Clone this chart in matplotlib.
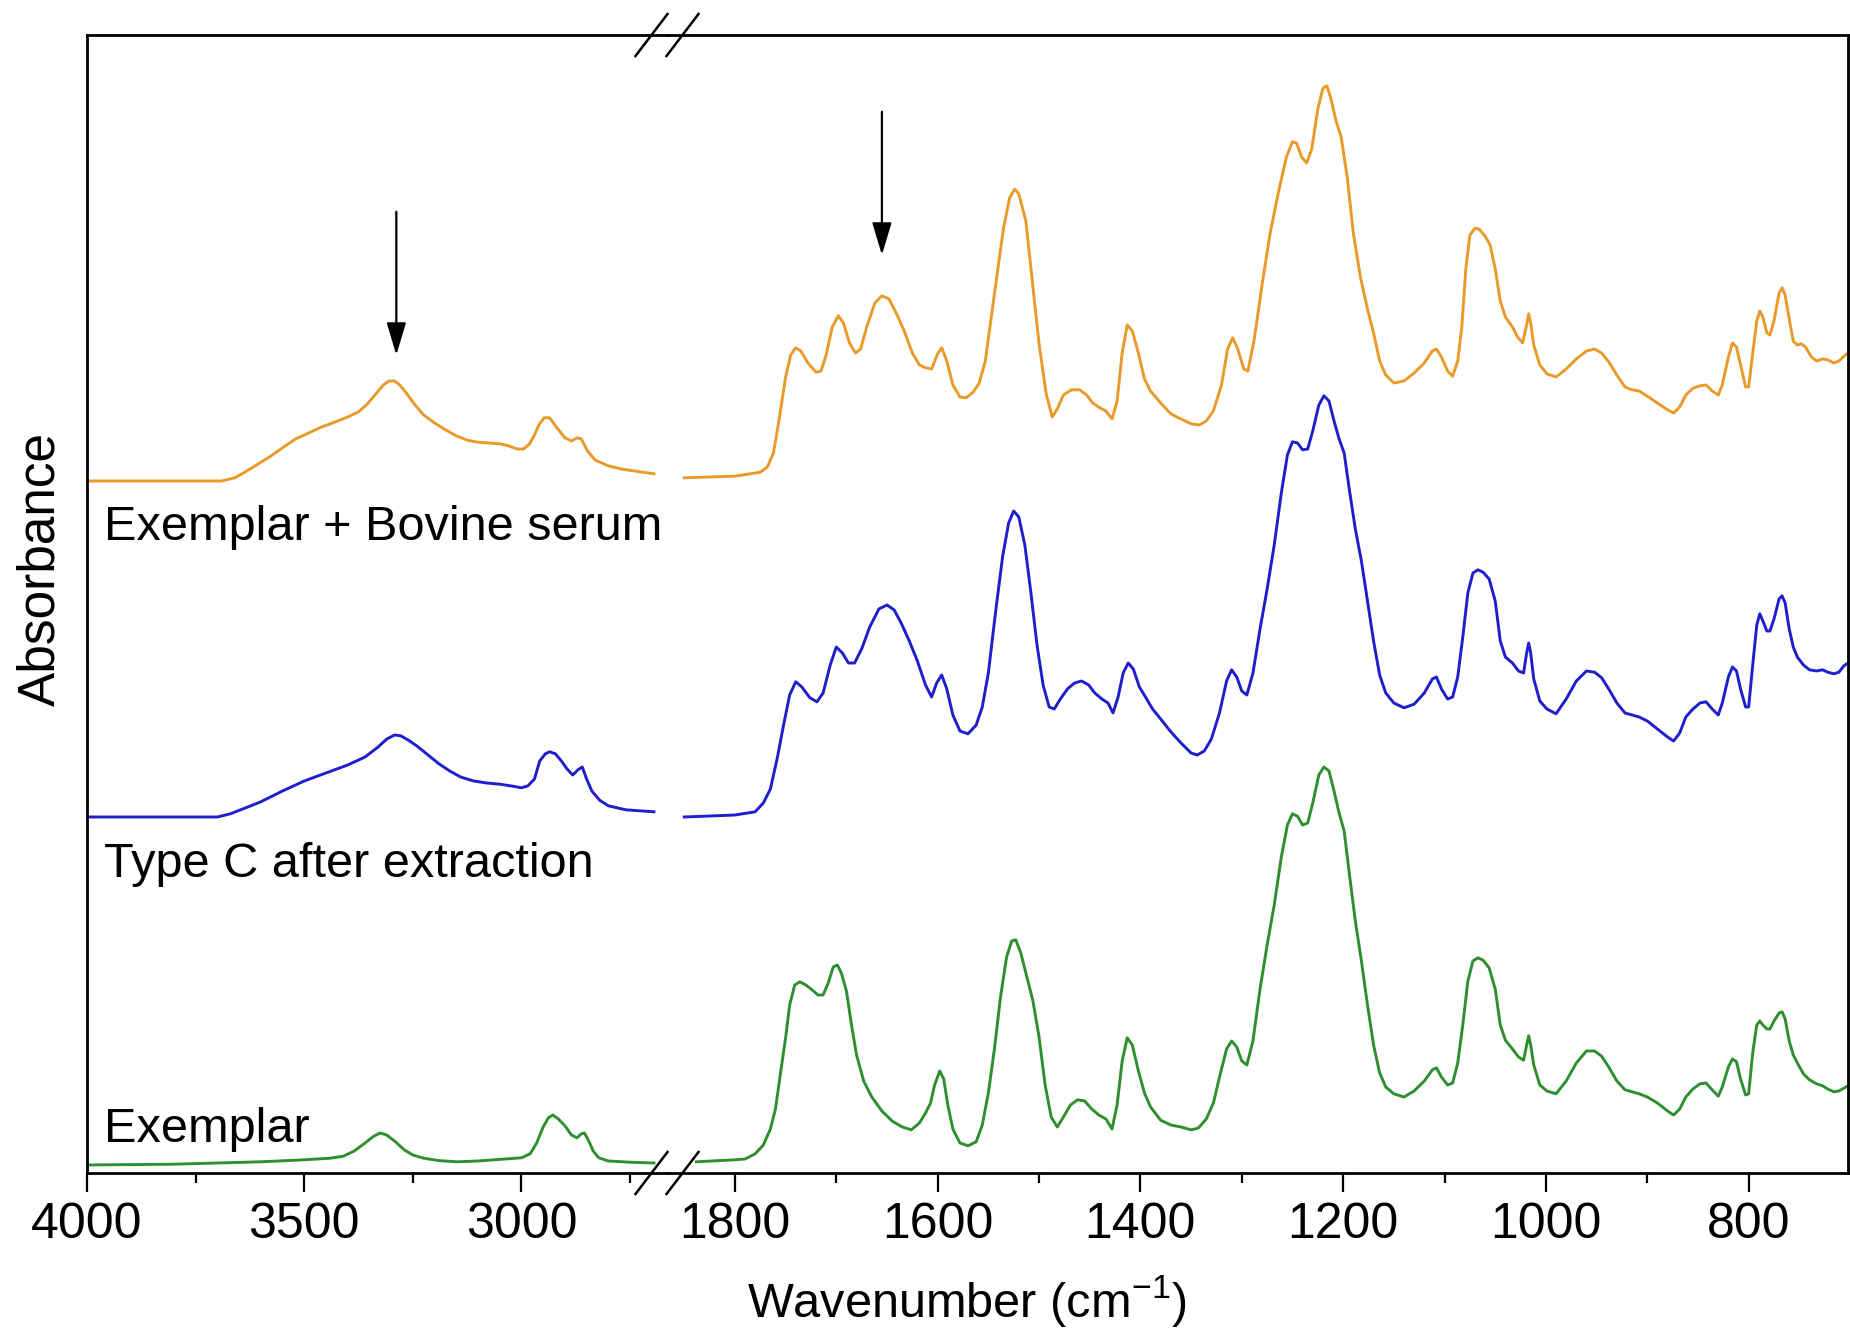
import matplotlib
matplotlib.use('Agg')

import matplotlib.pyplot as plt
from matplotlib.lines import Line2D
from matplotlib.ticker import MultipleLocator

plt.rcParams['font.family'] = ['Liberation Sans', 'DejaVu Sans']
plt.rcParams['mathtext.fontset'] = 'custom'
plt.rcParams['mathtext.rm'] = 'Liberation Sans'

# --- spectra (absorbance, arbitrary units, own baseline = 0)
# high wavenumber part (4000 - 2700 cm-1)
serum_wn_hi = [4000, 3690, 3660, 3640, 3610, 3580, 3550, 3520, 3490, 3460, 3430,
               3400, 3375, 3355, 3335, 3318, 3305, 3292, 3280, 3265, 3245, 3225,
               3200, 3175, 3150, 3125, 3100, 3075, 3050, 3030, 3010, 2995, 2982,
               2970, 2960, 2948, 2935, 2920, 2900, 2885, 2872, 2862, 2848, 2830,
               2800, 2770, 2740, 2695]
serum_abs_hi = [0.000, 0.000, 0.008, 0.020, 0.040, 0.060, 0.083, 0.105, 0.120,
                0.135, 0.147, 0.160, 0.173, 0.192, 0.218, 0.240, 0.250, 0.250,
                0.240, 0.220, 0.190, 0.165, 0.145, 0.128, 0.113, 0.102, 0.097,
                0.095, 0.093, 0.088, 0.080, 0.080, 0.092, 0.115, 0.140, 0.158,
                0.158, 0.135, 0.108, 0.100, 0.108, 0.105, 0.075, 0.052, 0.038,
                0.030, 0.025, 0.018]

typec_wn_hi = [4000, 3700, 3670, 3630, 3600, 3550, 3500, 3450, 3400, 3360, 3330,
               3310, 3292, 3278, 3260, 3240, 3215, 3190, 3165, 3140, 3110, 3080,
               3050, 3020, 3000, 2985, 2970, 2958, 2945, 2935, 2922, 2908, 2895,
               2882, 2870, 2860, 2850, 2838, 2820, 2800, 2760, 2695]
typec_abs_hi = [0.000, 0.000, 0.008, 0.025, 0.038, 0.065, 0.090, 0.110, 0.130,
                0.150, 0.175, 0.195, 0.205, 0.203, 0.192, 0.177, 0.155, 0.133,
                0.115, 0.100, 0.090, 0.085, 0.082, 0.077, 0.073, 0.078, 0.095,
                0.140, 0.158, 0.163, 0.158, 0.140, 0.120, 0.105, 0.118, 0.125,
                0.095, 0.065, 0.042, 0.028, 0.018, 0.013]

exem_wn_hi = [4000, 3800, 3700, 3600, 3500, 3440, 3410, 3385, 3360, 3340, 3325,
              3310, 3290, 3270, 3250, 3225, 3190, 3150, 3100, 3050, 3000, 2980,
              2965, 2950, 2938, 2928, 2915, 2900, 2885, 2872, 2862, 2855, 2845,
              2835, 2822, 2800, 2750, 2695]
exem_abs_hi = [0.000, 0.002, 0.005, 0.008, 0.013, 0.017, 0.022, 0.035, 0.055,
               0.072, 0.080, 0.075, 0.058, 0.038, 0.025, 0.017, 0.011, 0.008,
               0.010, 0.014, 0.018, 0.028, 0.055, 0.095, 0.118, 0.125, 0.115,
               0.098, 0.075, 0.068, 0.078, 0.080, 0.060, 0.035, 0.018, 0.010,
               0.007, 0.005]

# fingerprint part (1850 - 700 cm-1)
serum_wn_lo = [1850, 1800, 1775, 1768, 1762, 1756, 1750, 1745, 1740, 1735, 1728,
               1720, 1715, 1710, 1704, 1698, 1693, 1687, 1681, 1676, 1670, 1662,
               1655, 1648, 1640, 1633, 1625, 1618, 1612, 1606, 1600, 1596, 1591,
               1585, 1578, 1572, 1565, 1559, 1553, 1544, 1535, 1529, 1524, 1520,
               1513, 1507, 1500, 1493, 1487, 1482, 1476, 1468, 1460, 1453, 1447,
               1440, 1434, 1428, 1423, 1418, 1413, 1408, 1402, 1396, 1390, 1380,
               1370, 1360, 1350, 1342, 1335, 1328, 1320, 1314, 1309, 1304, 1298,
               1294, 1288, 1280, 1272, 1264, 1256, 1250, 1246, 1241, 1236, 1231,
               1225, 1220, 1216, 1212, 1207, 1202, 1196, 1190, 1183, 1176, 1170,
               1164, 1158, 1150, 1140, 1130, 1120, 1112, 1108, 1103, 1097, 1092,
               1087, 1083, 1079, 1075, 1070, 1066, 1060, 1055, 1050, 1045, 1040,
               1033, 1028, 1023, 1019, 1017, 1015, 1012, 1006, 999, 990, 980, 970,
               960, 952, 945, 938, 930, 922, 915, 908, 900, 890, 880, 874, 868,
               862, 855, 848, 842, 836, 830, 826, 820, 816, 812, 808, 803, 800,
               796, 792, 789, 786, 782, 779, 775, 770, 767, 764, 760, 756, 752,
               748, 744, 738, 733, 727, 722, 716, 711, 706, 702]
serum_abs_lo = [0.008, 0.012, 0.022, 0.035, 0.070, 0.160, 0.260, 0.315, 0.333,
                0.325, 0.295, 0.272, 0.275, 0.315, 0.385, 0.413, 0.395, 0.345,
                0.320, 0.330, 0.385, 0.445, 0.463, 0.455, 0.415, 0.375, 0.320,
                0.290, 0.283, 0.280, 0.318, 0.333, 0.300, 0.240, 0.210, 0.208,
                0.222, 0.245, 0.300, 0.468, 0.633, 0.708, 0.730, 0.718, 0.650,
                0.508, 0.343, 0.218, 0.160, 0.180, 0.215, 0.228, 0.228, 0.215,
                0.195, 0.183, 0.175, 0.155, 0.200, 0.320, 0.390, 0.375, 0.320,
                0.255, 0.225, 0.195, 0.168, 0.155, 0.143, 0.140, 0.150, 0.175,
                0.240, 0.330, 0.358, 0.330, 0.280, 0.275, 0.350, 0.490, 0.620,
                0.720, 0.810, 0.848, 0.845, 0.810, 0.795, 0.830, 0.930, 0.982,
                0.988, 0.955, 0.900, 0.860, 0.760, 0.620, 0.510, 0.430, 0.370,
                0.300, 0.265, 0.245, 0.250, 0.270, 0.295, 0.325, 0.330, 0.310,
                0.275, 0.262, 0.300, 0.383, 0.530, 0.615, 0.632, 0.630, 0.612,
                0.590, 0.530, 0.450, 0.410, 0.385, 0.360, 0.345, 0.390, 0.418,
                0.395, 0.340, 0.290, 0.268, 0.260, 0.280, 0.305, 0.325, 0.330,
                0.320, 0.298, 0.265, 0.235, 0.228, 0.225, 0.212, 0.195, 0.178,
                0.170, 0.185, 0.215, 0.232, 0.238, 0.240, 0.225, 0.215, 0.240,
                0.310, 0.345, 0.335, 0.290, 0.235, 0.235, 0.320, 0.400, 0.425,
                0.410, 0.370, 0.365, 0.400, 0.470, 0.483, 0.465, 0.405, 0.350,
                0.340, 0.343, 0.335, 0.310, 0.300, 0.305, 0.303, 0.295, 0.300,
                0.312, 0.320]

typec_wn_lo = [1850, 1800, 1780, 1772, 1765, 1758, 1752, 1746, 1740, 1734, 1726,
               1719, 1713, 1706, 1700, 1694, 1688, 1682, 1675, 1667, 1658, 1650,
               1643, 1636, 1628, 1620, 1612, 1606, 1601, 1596, 1591, 1585, 1578,
               1570, 1562, 1556, 1550, 1543, 1536, 1530, 1525, 1520, 1514, 1508,
               1502, 1496, 1490, 1485, 1479, 1472, 1465, 1458, 1451, 1445, 1438,
               1432, 1427, 1422, 1417, 1412, 1407, 1401, 1395, 1388, 1380, 1370,
               1360, 1350, 1344, 1337, 1330, 1322, 1315, 1310, 1305, 1300, 1295,
               1289, 1282, 1275, 1268, 1261, 1255, 1250, 1245, 1240, 1235, 1230,
               1224, 1219, 1214, 1209, 1204, 1199, 1194, 1188, 1182, 1176, 1170,
               1164, 1158, 1150, 1140, 1130, 1120, 1112, 1108, 1103, 1097, 1092,
               1087, 1082, 1077, 1072, 1067, 1062, 1056, 1050, 1045, 1040, 1033,
               1027, 1022, 1019, 1017, 1015, 1012, 1006, 999, 990, 980, 970, 960,
               952, 945, 938, 930, 922, 915, 908, 900, 890, 880, 874, 868, 862,
               855, 848, 842, 836, 830, 826, 820, 816, 812, 808, 803, 800, 796,
               792, 789, 786, 782, 779, 775, 770, 767, 764, 760, 756, 752, 746,
               740, 733, 727, 722, 716, 711, 706, 702]
typec_abs_lo = [0.000, 0.005, 0.013, 0.035, 0.070, 0.150, 0.230, 0.305, 0.338,
                0.325, 0.298, 0.288, 0.310, 0.380, 0.425, 0.410, 0.385, 0.385,
                0.420, 0.475, 0.520, 0.530, 0.518, 0.485, 0.440, 0.390, 0.330,
                0.300, 0.335, 0.355, 0.320, 0.255, 0.215, 0.208, 0.230, 0.275,
                0.360, 0.510, 0.650, 0.735, 0.765, 0.750, 0.680, 0.560, 0.430,
                0.330, 0.275, 0.270, 0.295, 0.320, 0.335, 0.340, 0.330, 0.310,
                0.295, 0.285, 0.260, 0.300, 0.360, 0.385, 0.370, 0.325, 0.300,
                0.270, 0.245, 0.213, 0.185, 0.160, 0.155, 0.165, 0.195, 0.260,
                0.340, 0.368, 0.350, 0.315, 0.305, 0.360, 0.470, 0.570, 0.680,
                0.810, 0.905, 0.938, 0.935, 0.918, 0.920, 0.965, 1.030, 1.053,
                1.040, 0.990, 0.945, 0.910, 0.820, 0.720, 0.640, 0.540, 0.440,
                0.355, 0.310, 0.285, 0.273, 0.282, 0.310, 0.345, 0.350, 0.320,
                0.295, 0.300, 0.350, 0.450, 0.560, 0.610, 0.618, 0.612, 0.595,
                0.540, 0.440, 0.400, 0.385, 0.365, 0.360, 0.410, 0.435, 0.410,
                0.345, 0.290, 0.270, 0.258, 0.295, 0.340, 0.365, 0.362, 0.348,
                0.320, 0.285, 0.260, 0.255, 0.250, 0.240, 0.220, 0.200, 0.190,
                0.210, 0.250, 0.270, 0.285, 0.288, 0.270, 0.255, 0.285, 0.350,
                0.375, 0.365, 0.320, 0.275, 0.275, 0.380, 0.480, 0.508, 0.490,
                0.465, 0.465, 0.495, 0.545, 0.553, 0.535, 0.470, 0.425, 0.400,
                0.380, 0.368, 0.365, 0.368, 0.362, 0.358, 0.362, 0.378, 0.385]

exem_wn_lo = [1838, 1800, 1790, 1780, 1772, 1765, 1760, 1755, 1750, 1746, 1741,
              1736, 1730, 1724, 1718, 1713, 1708, 1703, 1699, 1695, 1690, 1685,
              1680, 1673, 1665, 1655, 1645, 1635, 1626, 1618, 1612, 1607, 1603,
              1598, 1594, 1590, 1585, 1578, 1570, 1562, 1556, 1550, 1544, 1538,
              1532, 1527, 1523, 1518, 1512, 1506, 1500, 1494, 1488, 1482, 1476,
              1469, 1462, 1455, 1448, 1441, 1434, 1428, 1423, 1418, 1413, 1408,
              1402, 1396, 1390, 1380, 1370, 1360, 1350, 1343, 1335, 1328, 1321,
              1315, 1310, 1305, 1300, 1295, 1289, 1282, 1275, 1268, 1261, 1255,
              1250, 1245, 1240, 1235, 1230, 1224, 1219, 1214, 1209, 1204, 1199,
              1194, 1188, 1182, 1176, 1170, 1164, 1158, 1150, 1140, 1130, 1120,
              1112, 1108, 1103, 1097, 1092, 1087, 1082, 1077, 1072, 1067, 1062,
              1056, 1050, 1045, 1040, 1033, 1027, 1022, 1019, 1017, 1015, 1012,
              1006, 999, 990, 980, 970, 960, 952, 945, 938, 930, 922, 915, 908,
              900, 890, 880, 874, 868, 862, 855, 848, 842, 836, 830, 826, 820,
              816, 812, 808, 803, 800, 796, 792, 789, 786, 782, 779, 775, 770,
              767, 764, 760, 756, 752, 746, 740, 733, 727, 722, 716, 711, 706,
              702]
exem_abs_lo = [0.008, 0.013, 0.015, 0.028, 0.050, 0.090, 0.140, 0.230, 0.318,
               0.400, 0.450, 0.458, 0.450, 0.438, 0.425, 0.425, 0.455, 0.495,
               0.500, 0.480, 0.435, 0.350, 0.275, 0.210, 0.170, 0.135, 0.110,
               0.095, 0.088, 0.105, 0.130, 0.155, 0.200, 0.235, 0.215, 0.150,
               0.090, 0.055, 0.048, 0.058, 0.100, 0.180, 0.290, 0.420, 0.520,
               0.560, 0.563, 0.530, 0.470, 0.410, 0.320, 0.200, 0.120, 0.095,
               0.120, 0.150, 0.163, 0.160, 0.140, 0.125, 0.115, 0.090, 0.150,
               0.260, 0.318, 0.300, 0.235, 0.180, 0.145, 0.112, 0.100, 0.095,
               0.088, 0.092, 0.115, 0.155, 0.230, 0.290, 0.310, 0.295, 0.260,
               0.250, 0.310, 0.440, 0.550, 0.650, 0.770, 0.850, 0.878, 0.872,
               0.850, 0.855, 0.905, 0.975, 0.995, 0.985, 0.935, 0.880, 0.835,
               0.730, 0.610, 0.510, 0.400, 0.300, 0.230, 0.195, 0.178, 0.170,
               0.185, 0.210, 0.238, 0.243, 0.220, 0.200, 0.205, 0.255, 0.350,
               0.460, 0.510, 0.518, 0.512, 0.493, 0.440, 0.350, 0.312, 0.290,
               0.270, 0.262, 0.300, 0.323, 0.300, 0.250, 0.200, 0.185, 0.178,
               0.210, 0.255, 0.285, 0.285, 0.272, 0.245, 0.210, 0.188, 0.183,
               0.178, 0.170, 0.155, 0.135, 0.125, 0.140, 0.170, 0.190, 0.203,
               0.205, 0.188, 0.172, 0.195, 0.245, 0.265, 0.258, 0.215, 0.175,
               0.178, 0.280, 0.350, 0.360, 0.350, 0.340, 0.340, 0.360, 0.380,
               0.383, 0.365, 0.310, 0.275, 0.255, 0.228, 0.213, 0.203, 0.198,
               0.190, 0.183, 0.185, 0.192, 0.198]

labels = ['Exemplar + Bovine serum', 'Type C after extraction', 'Exemplar']
colors = ['#E99A2A', '#1E1ECC', '#2F8F2F']
offsets = [1.73, 0.89, 0.02]
arrow_wn = [3288, 1655]

fig = plt.figure(figsize=(18.5, 13.31), dpi=100)
W, H = 1850.0, 1331.0
x0, xb, x1 = 87, 667, 1848
y0, y1 = 1173, 35
bottom = 1 - y0 / H
height = (y0 - y1) / H
ax_hi = fig.add_axes([x0 / W, bottom, (xb - x0) / W, height])
ax_lo = fig.add_axes([xb / W, bottom, (x1 - xb) / W, height])
ax_lo.patch.set_visible(False)

hi = [(serum_wn_hi, serum_abs_hi), (typec_wn_hi, typec_abs_hi),
      (exem_wn_hi, exem_abs_hi)]
lo = [(serum_wn_lo, serum_abs_lo), (typec_wn_lo, typec_abs_lo),
      (exem_wn_lo, exem_abs_lo)]

for (wh, ah), (wl, al), c, off in zip(hi, lo, colors, offsets):
    ax_hi.plot(wh, [a + off for a in ah], color=c, lw=2.1,
               solid_joinstyle='round')
    ax_lo.plot(wl, [a + off for a in al], color=c, lw=2.1,
               solid_joinstyle='round')

ax_hi.set_xlim(4000, 2665)
ax_lo.set_xlim(1867, 702)
for ax in (ax_hi, ax_lo):
    ax.set_ylim(0, 2.845)
    ax.set_yticks([])
    for s in ax.spines.values():
        s.set_linewidth(2.0)
    ax.tick_params(axis='x', which='major', direction='out', length=14,
                   width=1.6, labelsize=36, pad=7)
    ax.tick_params(axis='x', which='minor', direction='out', length=7,
                   width=1.6)
ax_hi.spines['right'].set_visible(False)
ax_lo.spines['left'].set_visible(False)

ax_hi.set_xticks([4000, 3500, 3000])
ax_hi.xaxis.set_minor_locator(MultipleLocator(250))
ax_lo.set_xticks([1800, 1600, 1400, 1200, 1000, 800])
ax_lo.xaxis.set_minor_locator(MultipleLocator(100))

# curve labels
label_y = [1.583, 0.740, 0.078]
for txt, yy in zip(labels, label_y):
    ax_hi.text(3961, yy, txt, fontsize=35, va='baseline', ha='left',
               clip_on=False, zorder=5)

# arrows
ax_hi.annotate('', xy=(arrow_wn[0], 2.045), xytext=(arrow_wn[0], 2.403),
               arrowprops=dict(arrowstyle='-|>,head_length=1.0,head_width=0.3',
                               mutation_scale=20, lw=1.6, color='k',
                               shrinkA=0, shrinkB=0))
ax_lo.annotate('', xy=(arrow_wn[1], 2.295), xytext=(arrow_wn[1], 2.653),
               arrowprops=dict(arrowstyle='-|>,head_length=1.0,head_width=0.3',
                               mutation_scale=20, lw=1.6, color='k',
                               shrinkA=0, shrinkB=0))

# axis break marks
for yc in (y0, y1):
    for dx in (-15.5, 15.5):
        xc = xb + dx
        fig.add_artist(Line2D([(xc - 16) / W, (xc + 16) / W],
                              [1 - (yc + 21) / H, 1 - (yc - 21) / H],
                              color='k', lw=1.8))

fig.text(967 / W, 1 - 1317 / H, 'Wavenumber (cm$^{-1}$)', fontsize=35,
         ha='center', va='baseline')
fig.text(41 / W, 1 - 569 / H, 'Absorbance', fontsize=37, rotation=90,
         ha='center', va='center')

fig.savefig('out.png', dpi=100)
